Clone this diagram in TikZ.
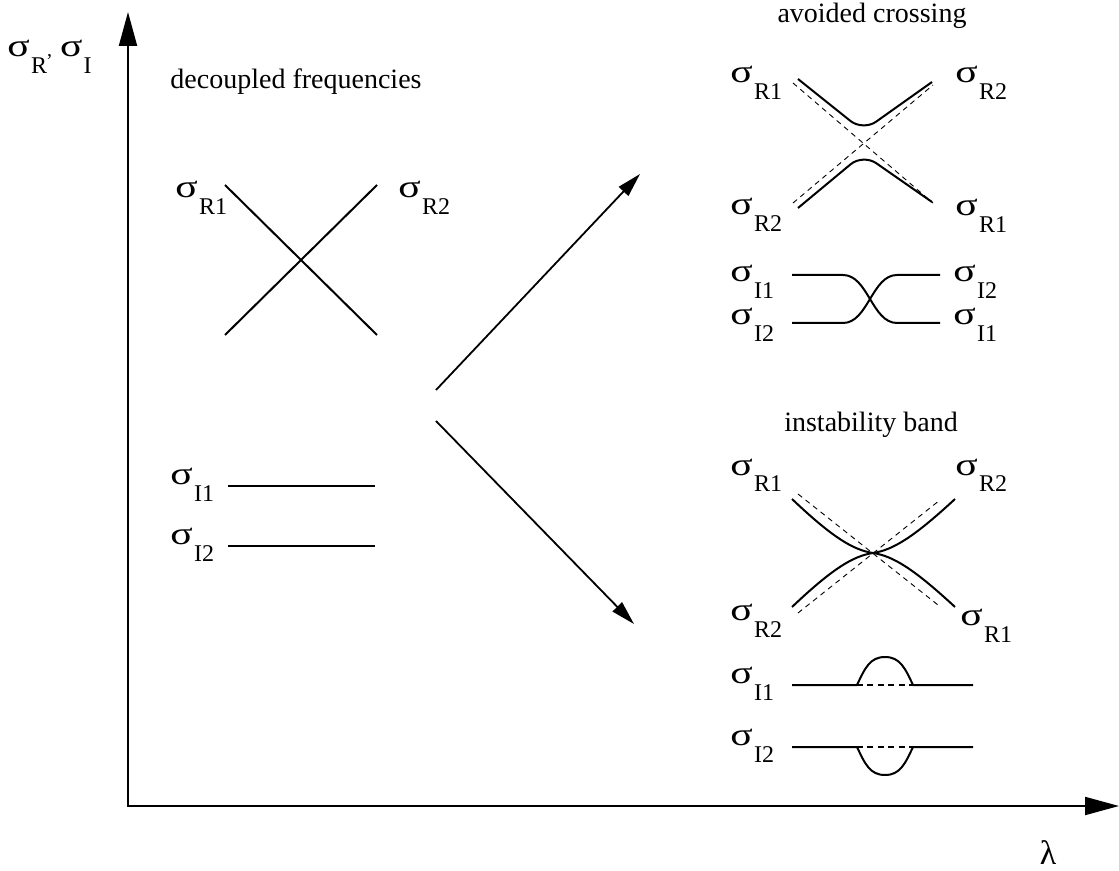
\documentclass[tikz,border=0pt]{standalone}
\usepackage{fontspec}
\setmainfont{Liberation Serif}
\usetikzlibrary{arrows.meta}
\newcommand{\sg}[1]{\scalebox{1.3}[1]{\fontsize{16}{16}\selectfont σ}\kern0.6pt\raisebox{-8.5pt}{\fontsize{12}{12}\selectfont #1}}
\tikzset{
  curve/.style={line width=1pt, line join=round},
  guide/.style={line width=0.45pt, dash pattern=on 2.6pt off 2.2pt},
  dotguide/.style={line width=0.9pt, dash pattern=on 3pt off 2.2pt},
  lbl/.style={anchor=base west, inner sep=0pt},
  head/.style={anchor=base, inner sep=0pt, font=\fontsize{14}{16}\selectfont},
  axisline/.style={line width=1pt, {Triangle[length=17pt,width=9pt]}-{Triangle[length=17pt,width=9pt]}},
  flow/.style={line width=0.9pt, -{Triangle[length=12pt,width=6.5pt]}}
}
\begin{document}
\begin{tikzpicture}[x=0.5pt,y=-0.5pt]
\useasboundingbox (0,0) rectangle (1119,871);
% axes
\coordinate (O) at (128,806);
\coordinate (Ytip) at (128,12);
\coordinate (Xtip) at (1119,806);
\draw[axisline] (Ytip) -- (O) -- (Xtip);
\node[lbl] (ylab) at (7,57) {\sg{R},\kern4pt\sg{I}};
\node[anchor=base, inner sep=0pt, font=\fontsize{17}{19}\selectfont] (xlab) at (1048,864) {λ};

% decoupled
\node[head] (hdec) at (296,89) {decoupled frequencies};
\draw[curve] (225,185) -- (377,335);
\draw[curve] (377,185) -- (225,335);
\node[lbl] (dR1) at (175,198) {\sg{R1}};
\node[lbl] (dR2) at (398,198) {\sg{R2}};
\draw[curve] (228,486) -- (375,486);
\draw[curve] (228,546) -- (375,546);
\node[lbl] (dI1) at (170,485) {\sg{I1}};
\node[lbl] (dI2) at (170,545) {\sg{I2}};

% arrows
\coordinate (a1s) at (436,390);
\coordinate (a1e) at (640,174);
\coordinate (a2s) at (436,421);
\coordinate (a2e) at (634,624);
\draw[flow] (a1s) -- (a1e);
\draw[flow] (a2s) -- (a2e);

% avoided crossing
\node[head] (hav) at (872,23) {avoided crossing};
\draw[guide] (793,83) -- (933,203);
\draw[guide] (793,203) -- (933,85);
\draw[curve, rounded corners=8pt] (798,79) -- (863,131) -- (932,82);
\draw[curve, rounded corners=8pt] (798,208) -- (863,154) -- (932,202);
\node[lbl] (aR1a) at (730,83) {\sg{R1}};
\node[lbl] (aR2a) at (955,83) {\sg{R2}};
\node[lbl] (aR2b) at (730,215) {\sg{R2}};
\node[lbl] (aR1b) at (955,216) {\sg{R1}};
\draw[curve] (792,275) -- (843,275) .. controls (868,275) and (872,323) .. (897,323) -- (940,323);
\draw[curve] (792,323) -- (843,323) .. controls (868,323) and (872,275) .. (897,275) -- (940,275);
\node[lbl] (aI1a) at (730,282) {\sg{I1}};
\node[lbl] (aI2a) at (730,325) {\sg{I2}};
\node[lbl] (aI2b) at (953,282) {\sg{I2}};
\node[lbl] (aI1b) at (953,325) {\sg{I1}};

% instability band
\node[head] (hin) at (871,432) {instability band};
\draw[guide] (798,494) -- (938,605);
\draw[guide] (798,613) -- (940,500);
\draw[curve] (792,499) .. controls (832,537) and (853,550) .. (873,553)
  .. controls (893,556) and (914,569) .. (955,607);
\draw[curve] (792,607) .. controls (832,569) and (853,556) .. (873,553)
  .. controls (893,550) and (914,537) .. (955,499);
\node[lbl] (iR1a) at (730,475) {\sg{R1}};
\node[lbl] (iR2a) at (955,475) {\sg{R2}};
\node[lbl] (iR2b) at (730,620) {\sg{R2}};
\node[lbl] (iR1b) at (960,625) {\sg{R1}};
\draw[curve] (792,685) -- (857,685) .. controls (865,668) and (870,657) .. (885,657)
  .. controls (900,657) and (905,668) .. (913,685) -- (973,685);
\draw[dotguide] (857,685) -- (913,685);
\draw[curve] (792,747) -- (857,747) .. controls (865,764) and (870,775) .. (885,775)
  .. controls (900,775) and (905,764) .. (913,747) -- (973,747);
\draw[dotguide] (857,747) -- (913,747);
\node[lbl] (iI1) at (730,683) {\sg{I1}};
\node[lbl] (iI2) at (730,745) {\sg{I2}};
\end{tikzpicture}
\end{document}
